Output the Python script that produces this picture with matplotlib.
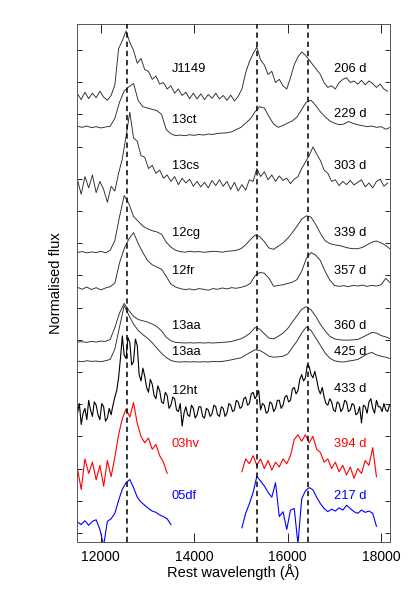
import numpy as np
import matplotlib
matplotlib.use("Agg")
import matplotlib.pyplot as plt

plt.rcParams['font.family'] = ['Liberation Sans', 'DejaVu Sans']

# ---------------- data ----------------
fe_lines = [12567, 15335, 16440]          # dashed reference lines (Angstrom)

names = ["J1149", "13ct", "13cs", "12cg", "12fr", "13aa", "13aa", "12ht", "03hv", "05df"]
epochs = ["206 d", "229 d", "303 d", "339 d", "357 d", "360 d", "425 d", "433 d", "394 d", "217 d"]
offsets = [13.54, 12.58, 10.87, 8.73, 7.61, 5.93, 5.31, 3.82, 2.05, 0.56]

# flux (continuum-subtracted, normalised) sampled from a start wavelength with given step
j1149_flux = [0.10, -0.08, 0.15, -0.05, 0.12, -0.02, 0.18, 0.00, -0.10, 0.05,
              0.37, 1.50, 1.75, 2.05, 1.70, 1.45, 1.05, 1.20, 0.85, 0.80,
              0.55, 0.65, 0.40, 0.45, 0.25, 0.35, 0.12, 0.25, 0.05, 0.15,
              -0.05, 0.12, -0.06, 0.10, -0.08, 0.08, -0.04, 0.12, -0.06, 0.05,
              -0.10, 0.06, -0.12, 0.02, 0.25, 0.75, 1.10, 1.35, 1.55, 1.15,
              1.00, 0.70, 0.80, 0.45, 0.55, 0.35, 0.25, 0.60, 1.00, 1.25,
              1.40, 1.30, 1.15, 1.00, 0.85, 0.70, 0.45, 0.30, 0.35, 0.25,
              0.45, 0.55, 0.60, 0.45, 0.50, 0.40, 0.52, 0.38, 0.50, 0.42,
              0.30, 0.40, 0.25, 0.18]
c13ct_flux = [0.05, 0.02, 0.06, 0.01, 0.04, 0.00, 0.03, 0.05, 0.30, 0.80,
              1.15, 1.28, 1.38, 0.85, 0.66, 0.62, 0.58, 0.54, 0.42, -0.05,
              -0.18, -0.24, -0.22, -0.24, -0.21, -0.23, -0.20, -0.22, -0.19, -0.20,
              -0.17, -0.16, -0.15, -0.12, -0.05, 0.02, 0.15, 0.28, 0.50, 0.66,
              0.62, 0.35, 0.12, 0.02, 0.08, 0.15, 0.22, 0.34, 0.58, 0.80,
              0.86, 0.70, 0.50, 0.35, 0.22, 0.15, 0.10, 0.12, 0.20, 0.14,
              0.10, 0.07, 0.04, 0.06, 0.02, 0.04, -0.04, 0.02]
c13cs_flux = [0.10, -0.35, 0.20, -0.15, 0.25, -0.30, 0.05, -0.20, -0.60, -0.10,
              -0.25, 0.30, 0.75, 1.45, 2.20, 1.40, 1.30, 0.85, 0.80, 0.45,
              0.55, 0.30, 0.40, 0.15, 0.25, 0.05, 0.20, -0.05, 0.15, 0.00,
              0.12, -0.10, 0.05, -0.12, 0.02, -0.15, 0.08, -0.08, 0.10, -0.10,
              0.05, -0.20, 0.02, -0.25, -0.05, -0.22, 0.10, 0.05, 0.45, 0.20,
              0.35, 0.10, 0.25, 0.05, 0.22, 0.08, 0.15, -0.02, 0.12, 0.20,
              0.45, 0.65, 0.85, 1.12, 0.90, 0.70, 0.40, 0.30, 0.05, 0.10,
              -0.08, 0.05, -0.05, 0.08, -0.06, 0.02, 0.10, -0.12, 0.00, -0.15,
              0.05, 0.12, -0.10, 0.00]
c12cg_flux = [-0.02, 0.01, -0.03, 0.00, -0.02, 0.02, -0.03, 0.05, 0.35, 1.09,
              1.75, 1.50, 1.10, 0.95, 0.80, 0.72, 0.66, 0.62, 0.55, 0.30,
              0.15, 0.05, 0.01, -0.01, 0.02, 0.00, 0.01, -0.01, 0.00, 0.02,
              0.01, -0.01, 0.02, 0.03, 0.05, 0.10, 0.22, 0.38, 0.52, 0.48,
              0.32, 0.12, 0.08, 0.18, 0.28, 0.42, 0.60, 0.80, 1.02, 1.12,
              1.08, 0.85, 0.58, 0.35, 0.26, 0.22, 0.20, 0.16, 0.12, 0.10,
              0.10, 0.14, 0.22, 0.30, 0.34, 0.28, 0.20, 0.08]
c12fr_flux = [0.02, -0.04, 0.03, -0.05, 0.01, -0.06, 0.00, 0.04, 0.15, 0.78,
              1.22, 1.52, 1.72, 1.38, 1.10, 0.85, 0.72, 0.65, 0.58, 0.36,
              0.12, 0.03, -0.02, -0.05, -0.03, -0.06, -0.02, -0.04, -0.07, -0.02,
              -0.04, 0.00, -0.03, 0.01, -0.01, 0.02, 0.06, 0.14, 0.38, 0.48,
              0.46, 0.30, 0.05, 0.08, 0.10, 0.14, 0.18, 0.26, 0.52, 0.92,
              1.10, 1.02, 0.85, 0.52, 0.25, 0.08, 0.05, 0.07, 0.04, 0.08,
              0.06, 0.09, 0.05, 0.08, 0.06, 0.10, 0.30, 0.15]
c13aa_a_flux = [0.00, 0.01, -0.01, 0.02, 0.00, 0.03, 0.02, 0.08, 0.45, 0.90,
                1.20, 0.98, 0.80, 0.70, 0.66, 0.62, 0.56, 0.48, 0.35, 0.15,
                0.04, -0.01, -0.02, -0.03, -0.02, -0.03, -0.02, -0.03, -0.02, -0.03,
                -0.02, -0.01, 0.00, 0.02, 0.06, 0.10, 0.18, 0.28, 0.45, 0.40,
                0.26, 0.12, 0.10, 0.18, 0.28, 0.42, 0.62, 0.82, 1.02, 1.10,
                1.00, 0.80, 0.55, 0.35, 0.18, 0.10, 0.07, 0.06, 0.06, 0.07,
                0.08, 0.15, 0.22, 0.30, 0.28, 0.20, 0.16, 0.10]
c13aa_b_flux = [0.03, 0.01, 0.04, 0.02, 0.03, 0.01, 0.04, 0.08, 0.40, 1.09,
                1.75, 1.45, 1.18, 0.98, 0.85, 0.74, 0.60, 0.43, 0.27, 0.14,
                0.05, 0.01, 0.00, 0.01, 0.00, 0.01, 0.00, 0.01, 0.00, 0.02,
                0.01, 0.02, 0.04, 0.07, 0.10, 0.13, 0.22, 0.30, 0.38, 0.36,
                0.28, 0.18, 0.15, 0.16, 0.18, 0.25, 0.45, 0.65, 0.90, 1.09,
                0.98, 0.75, 0.52, 0.28, 0.12, 0.04, 0.01, 0.00, 0.03, 0.05,
                0.08, 0.16, 0.25, 0.30, 0.22, 0.18, 0.15, 0.10]
c12ht_flux = [-0.10, 0.20, -0.45, -0.10, 0.05, -0.30, 0.30, 0.00, -0.20, 0.25,
              0.15, -0.15, -0.30, 0.20, 0.10, -0.35, -0.25, 0.05, -0.15, 0.15,
              0.40, 0.60, 1.00, 1.60, 2.30, 1.70, 1.60, 2.25, 2.10, 1.40,
              1.50, 2.20, 2.00, 1.10, 0.90, 1.30, 1.05, 0.70, 0.55, 0.95,
              0.80, 0.45, 0.35, 0.75, 0.60, 0.25, 0.20, 0.55, 0.45, 0.05,
              0.15, 0.40, 0.35, 0.00, -0.05, 0.20, -0.50, -0.10, 0.10, -0.15,
              -0.20, 0.15, 0.05, -0.25, -0.15, 0.10, 0.10, -0.20, -0.25, 0.05,
              0.00, -0.20, -0.12, 0.15, 0.10, -0.15, -0.20, 0.10, 0.05, -0.20,
              -0.10, 0.20, 0.15, -0.05, 0.00, 0.30, 0.25, 0.05, 0.10, 0.35,
              0.40, 0.15, 0.20, 0.50, 0.55, 0.35, 0.45, 0.60, 0.00, 0.20,
              0.15, -0.10, -0.05, 0.25, 0.20, -0.05, 0.05, 0.30, 0.30, 0.05,
              0.15, 0.40, 0.45, 0.25, 0.30, 0.65, 0.70, 0.50, 0.60, 0.95,
              1.10, 0.90, 1.00, 1.40, 1.35, 1.10, 1.00, 1.20, 0.95, 0.65,
              0.50, 0.70, 0.40, 0.20, 0.15, 0.35, 0.25, 0.00, -0.05, 0.25,
              0.20, -0.05, 0.05, 0.30, 0.25, -0.05, 0.00, 0.20, 0.15, -0.15,
              -0.10, 0.10, -0.40, 0.15, 0.10, -0.10, 0.25, 0.35, 0.05, -0.10,
              0.30, 0.10, 0.10, -0.05, 0.20, 0.00, -0.05, 0.15]
c03hv_blue_flux = [-0.05, -0.70, 0.25, -0.20, 0.15, -0.40, 0.05, -0.60, 0.20, -0.30,
                   0.30, 1.00, 1.50, 1.80, 1.55, 2.00, 1.35, 0.95, 0.75, 0.90,
                   0.55, 0.70, 0.35, 0.15, -0.20]
c03hv_red_flux = [-0.15, 0.25, 0.10, 0.35, 0.05, 0.25, -0.05, 0.20, -0.10, 0.15,
                  0.00, 0.25, 0.10, 0.35, 0.85, 1.00, 0.80, 1.00, 0.75, 0.95,
                  0.55, 0.45, 0.15, 0.25, -0.05, 0.15, -0.15, 0.05, -0.25, 0.00,
                  -0.35, -0.05, -0.20, 0.20, 0.05, 0.60, -0.30]
c05df_blue_flux = [-0.22, -0.30, -0.18, -0.32, -0.20, -0.15, -0.45, -0.95, -0.20, -0.12,
                   0.05, 0.45, 0.80, 1.00, 1.10, 0.85, 0.55, 0.40, 0.30, 0.20,
                   0.12, 0.08, 0.00, -0.05, -0.12, -0.30]
c05df_red_flux = [-0.40, 0.05, 0.35, 0.70, 1.20, 1.05, 0.90, 0.70, 0.55, 1.00,
                  -0.05, 0.10, -0.45, 0.15, 0.20, -0.90, 0.50, 0.75, 0.85, 0.78,
                  0.55, 0.35, 0.20, 0.10, 0.18, 0.12, 0.22, 0.15, 0.30, 0.20,
                  0.10, 0.05, 0.15, 0.08, 0.12, 0.05, -0.35]

# (start wavelength, sampling step, flux) per segment
segments = [
    [(11500, 80, j1149_flux)],
    [(11500, 100, c13ct_flux)],
    [(11500, 80, c13cs_flux)],
    [(11500, 100, c12cg_flux)],
    [(11500, 100, c12fr_flux)],
    [(11500, 100, c13aa_a_flux)],
    [(11500, 100, c13aa_b_flux)],
    [(11500, 40, c12ht_flux)],
    [(11500, 80, c03hv_blue_flux), (15020, 80, c03hv_red_flux)],
    [(11500, 80, c05df_blue_flux), (15020, 80, c05df_red_flux)],
]

label_y = [14.41, 12.83, 11.40, 9.32, 8.14, 6.43, 5.62, 4.41, 2.76, 1.15]
epoch_y = [14.41, 13.01, 11.40, 9.32, 8.14, 6.43, 5.62, 4.47, 2.76, 1.15]

colors = ["#2a2a2a"] * 7 + ["#000000", "#ff0000", "#0000ff"]
text_colors = ["#000000"] * 8 + ["#ff0000", "#0000ff"]
lws = [0.65] * 7 + [0.8, 0.8, 0.8]

# ---------------- plot ----------------
fig = plt.figure(figsize=(4.14, 5.92), dpi=100)
ax = fig.add_axes([0.186, 0.0845, 0.756, 0.875])

for segs, off, c, lw in zip(segments, offsets, colors, lws):
    for start, step, flux in segs:
        f = np.asarray(flux)
        w = start + step * np.arange(len(f))
        ax.plot(w, f + off, color=c, lw=lw, zorder=2)

for wl in fe_lines:
    ax.axvline(wl, color="black", lw=1.1, ls=(0, (3.5, 2.5)), zorder=3)

for name, ep, ly, ey, tc in zip(names, epochs, label_y, epoch_y, text_colors):
    ax.text(13520, ly, name, color=tc, fontsize=9.3, ha="left", va="center")
    ax.text(17000, ey, ep, color=tc, fontsize=9.3, ha="left", va="center")

ax.set_xlim(11490, 18190)
ax.set_ylim(-0.28, 15.81)
ax.set_xticks([12000, 14000, 16000, 18000])
ax.set_yticks(np.arange(0, 16))
ax.tick_params(axis="both", direction="in", top=True, right=True, labelsize=10, width=0.6)
ax.tick_params(axis="x", length=6.5, pad=6)
ax.tick_params(axis="y", length=3.3, labelleft=False)
for s in ax.spines.values():
    s.set_linewidth(0.7)
    s.set_color("#555555")

ax.set_xlabel("Rest wavelength (Å)", fontsize=10.5, labelpad=0)
ax.set_ylabel("Normalised flux", fontsize=10.5, labelpad=10)

fig.savefig("out.png", dpi=100)
